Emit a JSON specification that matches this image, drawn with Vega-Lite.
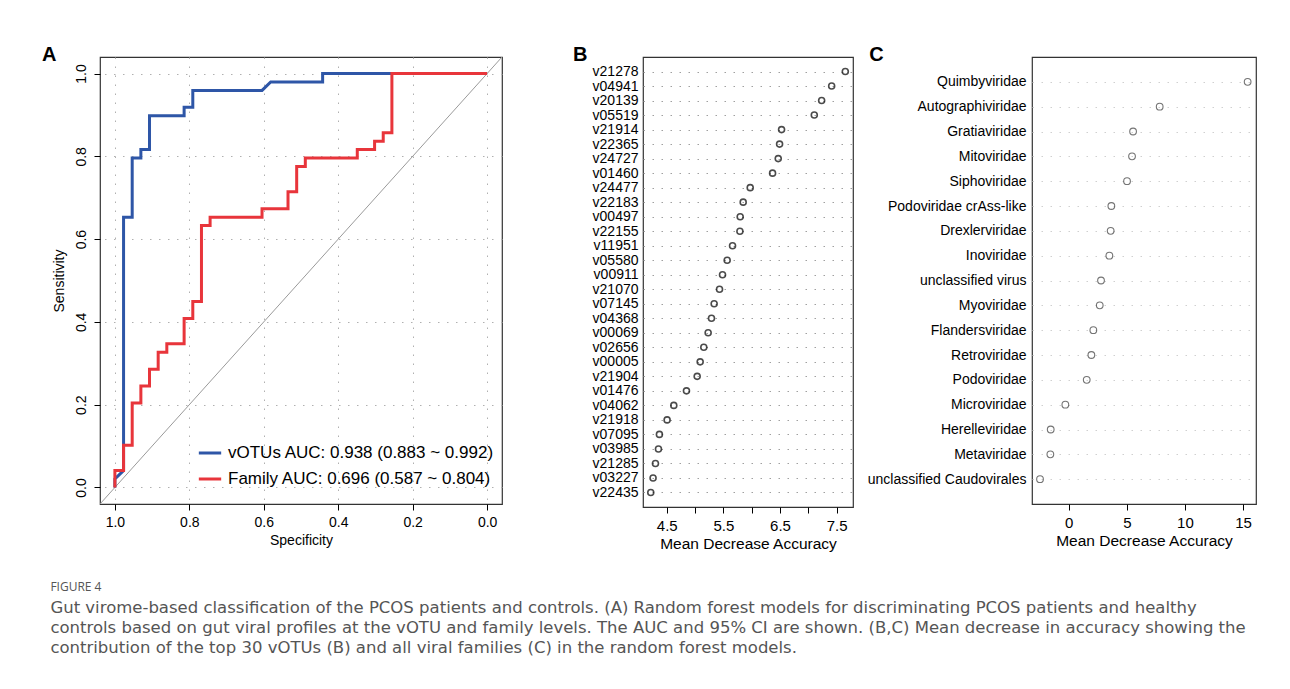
{
  "$schema": "https://vega.github.io/schema/vega-lite/v6.json",
  "padding": {"left": 41, "top": 44, "right": 10, "bottom": 10},
  "background": "white",
  "datasets": {
    "roc": [
      {"series": "vOTUs AUC: 0.938 (0.883 ~ 0.992)", "idx": 1, "spec": 1.0, "sens": 0.0},
      {"series": "vOTUs AUC: 0.938 (0.883 ~ 0.992)", "idx": 2, "spec": 1.0, "sens": 0.0204},
      {"series": "vOTUs AUC: 0.938 (0.883 ~ 0.992)", "idx": 3, "spec": 0.9767, "sens": 0.0408},
      {"series": "vOTUs AUC: 0.938 (0.883 ~ 0.992)", "idx": 4, "spec": 0.9767, "sens": 0.6531},
      {"series": "vOTUs AUC: 0.938 (0.883 ~ 0.992)", "idx": 5, "spec": 0.9535, "sens": 0.6531},
      {"series": "vOTUs AUC: 0.938 (0.883 ~ 0.992)", "idx": 6, "spec": 0.9535, "sens": 0.7959},
      {"series": "vOTUs AUC: 0.938 (0.883 ~ 0.992)", "idx": 7, "spec": 0.9302, "sens": 0.7959},
      {"series": "vOTUs AUC: 0.938 (0.883 ~ 0.992)", "idx": 8, "spec": 0.9302, "sens": 0.8163},
      {"series": "vOTUs AUC: 0.938 (0.883 ~ 0.992)", "idx": 9, "spec": 0.907, "sens": 0.8163},
      {"series": "vOTUs AUC: 0.938 (0.883 ~ 0.992)", "idx": 10, "spec": 0.907, "sens": 0.898},
      {"series": "vOTUs AUC: 0.938 (0.883 ~ 0.992)", "idx": 11, "spec": 0.814, "sens": 0.898},
      {"series": "vOTUs AUC: 0.938 (0.883 ~ 0.992)", "idx": 12, "spec": 0.814, "sens": 0.9184},
      {"series": "vOTUs AUC: 0.938 (0.883 ~ 0.992)", "idx": 13, "spec": 0.7907, "sens": 0.9184},
      {"series": "vOTUs AUC: 0.938 (0.883 ~ 0.992)", "idx": 14, "spec": 0.7907, "sens": 0.9592},
      {"series": "vOTUs AUC: 0.938 (0.883 ~ 0.992)", "idx": 15, "spec": 0.6047, "sens": 0.9592},
      {"series": "vOTUs AUC: 0.938 (0.883 ~ 0.992)", "idx": 16, "spec": 0.5814, "sens": 0.9796},
      {"series": "vOTUs AUC: 0.938 (0.883 ~ 0.992)", "idx": 17, "spec": 0.4419, "sens": 0.9796},
      {"series": "vOTUs AUC: 0.938 (0.883 ~ 0.992)", "idx": 18, "spec": 0.4419, "sens": 1.0},
      {"series": "vOTUs AUC: 0.938 (0.883 ~ 0.992)", "idx": 19, "spec": 0.0, "sens": 1.0},
      {"series": "Family AUC: 0.696 (0.587 ~ 0.804)", "idx": 1, "spec": 1.0, "sens": 0.0},
      {"series": "Family AUC: 0.696 (0.587 ~ 0.804)", "idx": 2, "spec": 1.0, "sens": 0.0408},
      {"series": "Family AUC: 0.696 (0.587 ~ 0.804)", "idx": 3, "spec": 0.9767, "sens": 0.0408},
      {"series": "Family AUC: 0.696 (0.587 ~ 0.804)", "idx": 4, "spec": 0.9767, "sens": 0.102},
      {"series": "Family AUC: 0.696 (0.587 ~ 0.804)", "idx": 5, "spec": 0.9535, "sens": 0.102},
      {"series": "Family AUC: 0.696 (0.587 ~ 0.804)", "idx": 6, "spec": 0.9535, "sens": 0.2041},
      {"series": "Family AUC: 0.696 (0.587 ~ 0.804)", "idx": 7, "spec": 0.9302, "sens": 0.2041},
      {"series": "Family AUC: 0.696 (0.587 ~ 0.804)", "idx": 8, "spec": 0.9302, "sens": 0.2449},
      {"series": "Family AUC: 0.696 (0.587 ~ 0.804)", "idx": 9, "spec": 0.907, "sens": 0.2449},
      {"series": "Family AUC: 0.696 (0.587 ~ 0.804)", "idx": 10, "spec": 0.907, "sens": 0.2857},
      {"series": "Family AUC: 0.696 (0.587 ~ 0.804)", "idx": 11, "spec": 0.8837, "sens": 0.2857},
      {"series": "Family AUC: 0.696 (0.587 ~ 0.804)", "idx": 12, "spec": 0.8837, "sens": 0.3265},
      {"series": "Family AUC: 0.696 (0.587 ~ 0.804)", "idx": 13, "spec": 0.8605, "sens": 0.3265},
      {"series": "Family AUC: 0.696 (0.587 ~ 0.804)", "idx": 14, "spec": 0.8605, "sens": 0.3469},
      {"series": "Family AUC: 0.696 (0.587 ~ 0.804)", "idx": 15, "spec": 0.814, "sens": 0.3469},
      {"series": "Family AUC: 0.696 (0.587 ~ 0.804)", "idx": 16, "spec": 0.814, "sens": 0.4082},
      {"series": "Family AUC: 0.696 (0.587 ~ 0.804)", "idx": 17, "spec": 0.7907, "sens": 0.4082},
      {"series": "Family AUC: 0.696 (0.587 ~ 0.804)", "idx": 18, "spec": 0.7907, "sens": 0.449},
      {"series": "Family AUC: 0.696 (0.587 ~ 0.804)", "idx": 19, "spec": 0.7674, "sens": 0.449},
      {"series": "Family AUC: 0.696 (0.587 ~ 0.804)", "idx": 20, "spec": 0.7674, "sens": 0.6327},
      {"series": "Family AUC: 0.696 (0.587 ~ 0.804)", "idx": 21, "spec": 0.7442, "sens": 0.6327},
      {"series": "Family AUC: 0.696 (0.587 ~ 0.804)", "idx": 22, "spec": 0.7442, "sens": 0.6531},
      {"series": "Family AUC: 0.696 (0.587 ~ 0.804)", "idx": 23, "spec": 0.6047, "sens": 0.6531},
      {"series": "Family AUC: 0.696 (0.587 ~ 0.804)", "idx": 24, "spec": 0.6047, "sens": 0.6735},
      {"series": "Family AUC: 0.696 (0.587 ~ 0.804)", "idx": 25, "spec": 0.5349, "sens": 0.6735},
      {"series": "Family AUC: 0.696 (0.587 ~ 0.804)", "idx": 26, "spec": 0.5349, "sens": 0.7143},
      {"series": "Family AUC: 0.696 (0.587 ~ 0.804)", "idx": 27, "spec": 0.5116, "sens": 0.7143},
      {"series": "Family AUC: 0.696 (0.587 ~ 0.804)", "idx": 28, "spec": 0.5116, "sens": 0.7755},
      {"series": "Family AUC: 0.696 (0.587 ~ 0.804)", "idx": 29, "spec": 0.4884, "sens": 0.7755},
      {"series": "Family AUC: 0.696 (0.587 ~ 0.804)", "idx": 30, "spec": 0.4884, "sens": 0.7959},
      {"series": "Family AUC: 0.696 (0.587 ~ 0.804)", "idx": 31, "spec": 0.3488, "sens": 0.7959},
      {"series": "Family AUC: 0.696 (0.587 ~ 0.804)", "idx": 32, "spec": 0.3488, "sens": 0.8163},
      {"series": "Family AUC: 0.696 (0.587 ~ 0.804)", "idx": 33, "spec": 0.3023, "sens": 0.8163},
      {"series": "Family AUC: 0.696 (0.587 ~ 0.804)", "idx": 34, "spec": 0.3023, "sens": 0.8367},
      {"series": "Family AUC: 0.696 (0.587 ~ 0.804)", "idx": 35, "spec": 0.2791, "sens": 0.8367},
      {"series": "Family AUC: 0.696 (0.587 ~ 0.804)", "idx": 36, "spec": 0.2791, "sens": 0.8571},
      {"series": "Family AUC: 0.696 (0.587 ~ 0.804)", "idx": 37, "spec": 0.2558, "sens": 0.8571},
      {"series": "Family AUC: 0.696 (0.587 ~ 0.804)", "idx": 38, "spec": 0.2558, "sens": 1.0},
      {"series": "Family AUC: 0.696 (0.587 ~ 0.804)", "idx": 39, "spec": 0.0, "sens": 1.0}
    ],
    "diag": [
      {"spec": 1.04, "sens": -0.04},
      {"spec": -0.04, "sens": 1.04}
    ],
    "otu": [
      {"otu": "v21278", "mda": 7.654},
      {"otu": "v04941", "mda": 7.413},
      {"otu": "v20139", "mda": 7.236},
      {"otu": "v05519", "mda": 7.106},
      {"otu": "v21914", "mda": 6.528},
      {"otu": "v22365", "mda": 6.493},
      {"otu": "v24727", "mda": 6.469},
      {"otu": "v01460", "mda": 6.369},
      {"otu": "v24477", "mda": 5.974},
      {"otu": "v22183", "mda": 5.85},
      {"otu": "v00497", "mda": 5.797},
      {"otu": "v22155", "mda": 5.792},
      {"otu": "v11951", "mda": 5.662},
      {"otu": "v05580", "mda": 5.567},
      {"otu": "v00911", "mda": 5.485},
      {"otu": "v21070", "mda": 5.432},
      {"otu": "v07145", "mda": 5.337},
      {"otu": "v04368", "mda": 5.29},
      {"otu": "v00069", "mda": 5.231},
      {"otu": "v02656", "mda": 5.154},
      {"otu": "v00005", "mda": 5.09},
      {"otu": "v21904", "mda": 5.037},
      {"otu": "v01476", "mda": 4.848},
      {"otu": "v04062", "mda": 4.624},
      {"otu": "v21918", "mda": 4.506},
      {"otu": "v07095", "mda": 4.37},
      {"otu": "v03985", "mda": 4.353},
      {"otu": "v21285", "mda": 4.3},
      {"otu": "v03227", "mda": 4.258},
      {"otu": "v22435", "mda": 4.217}
    ],
    "fam": [
      {"family": "Quimbyviridae", "mda": 15.4},
      {"family": "Autographiviridae", "mda": 7.83},
      {"family": "Gratiaviridae", "mda": 5.54},
      {"family": "Mitoviridae", "mda": 5.45},
      {"family": "Siphoviridae", "mda": 5.02},
      {"family": "Podoviridae crAss-like", "mda": 3.67},
      {"family": "Drexlerviridae", "mda": 3.61},
      {"family": "Inoviridae", "mda": 3.5},
      {"family": "unclassified virus", "mda": 2.78},
      {"family": "Myoviridae", "mda": 2.67},
      {"family": "Flandersviridae", "mda": 2.12},
      {"family": "Retroviridae", "mda": 1.95},
      {"family": "Podoviridae", "mda": 1.55},
      {"family": "Microviridae", "mda": -0.29},
      {"family": "Herelleviridae", "mda": -1.55},
      {"family": "Metaviridae", "mda": -1.58},
      {"family": "unclassified Caudovirales", "mda": -2.47}
    ]
  },
  "title": {
    "text": "FIGURE 4",
    "subtitle": [
      "Gut virome-based classification of the PCOS patients and controls. (A) Random forest models for discriminating PCOS patients and healthy",
      "controls based on gut viral profiles at the vOTU and family levels. The AUC and 95% CI are shown. (B,C) Mean decrease in accuracy showing the",
      "contribution of the top 30 vOTUs (B) and all viral families (C) in the random forest models."
    ],
    "orient": "bottom",
    "anchor": "start",
    "frame": "bounds",
    "font": "Open Sans",
    "fontSize": 12,
    "fontWeight": "normal",
    "color": "#555555",
    "subtitleFont": "DejaVu Sans",
    "subtitleFontSize": 16.5,
    "subtitleColor": "#555555",
    "subtitleLineHeight": 20,
    "subtitlePadding": 6,
    "offset": 30,
    "dx": 9
  },
  "spacing": 141,
  "bounds": "flush",
  "hconcat": [
    {
      "width": 402,
      "height": 447,
      "title": {"text": "A", "anchor": "start", "frame": "bounds", "font": "Liberation Sans", "fontSize": 20, "fontWeight": "bold", "color": "#000000", "baseline": "alphabetic", "offset": -24, "dx": -10},
      "layer": [
        {
          "data": {"name": "diag"},
          "mark": {"type": "line", "color": "#9a9a9a", "strokeWidth": 1, "clip": true},
          "encoding": {
            "x": {"field": "spec", "type": "quantitative", "scale": {"domain": [-0.04, 1.04], "reverse": true, "nice": false, "zero": false}},
            "y": {"field": "sens", "type": "quantitative", "scale": {"domain": [-0.04, 1.04], "nice": false, "zero": false}}
          }
        },
        {
          "data": {"name": "roc"},
          "transform": [{"filter": "datum.series == 'vOTUs AUC: 0.938 (0.883 ~ 0.992)'"}],
          "mark": {"type": "line", "strokeWidth": 3, "strokeJoin": "miter", "strokeCap": "butt"},
          "encoding": {
            "x": {"field": "spec", "type": "quantitative", "axis": {"title": "Specificity", "values": [0, 0.2, 0.4, 0.6, 0.8, 1.0], "format": ".1f", "grid": true, "gridDash": [1.5, 7.5], "gridColor": "#b0b0b0", "tickSize": 6, "labelPadding": 5, "titlePadding": 4, "labelFontSize": 14, "titleFontSize": 14}},
            "y": {"field": "sens", "type": "quantitative", "axis": {"title": "Sensitivity", "values": [0, 0.2, 0.4, 0.6, 0.8, 1.0], "format": ".1f", "grid": true, "gridDash": [1.5, 7.5], "gridColor": "#b0b0b0", "tickSize": 6, "labelAngle": 270, "labelAlign": "center", "labelBaseline": "bottom", "labelPadding": 6, "titlePadding": 8, "labelFontSize": 14, "titleFontSize": 14}},
            "color": {"field": "series", "type": "nominal",
              "scale": {"domain": ["vOTUs AUC: 0.938 (0.883 ~ 0.992)", "Family AUC: 0.696 (0.587 ~ 0.804)"], "range": ["#2E56A7", "#E8353B"]},
              "legend": {"title": null, "orient": "none", "legendX": 97, "legendY": 383, "padding": 0, "symbolType": "stroke", "symbolStrokeWidth": 3, "symbolSize": 500, "labelFontSize": 17, "labelFont": "Liberation Sans", "labelColor": "#000000", "labelOffset": 5, "rowPadding": 5, "labelLimit": 400}},
            "order": {"field": "idx", "type": "quantitative"}
          }
        },
        {
          "data": {"name": "roc"},
          "transform": [{"filter": "datum.series == 'Family AUC: 0.696 (0.587 ~ 0.804)'"}],
          "mark": {"type": "line", "strokeWidth": 3, "strokeJoin": "miter", "strokeCap": "butt"},
          "encoding": {
            "x": {"field": "spec", "type": "quantitative"},
            "y": {"field": "sens", "type": "quantitative"},
            "color": {"field": "series", "type": "nominal"},
            "order": {"field": "idx", "type": "quantitative"}
          }
        }
      ]
    },
    {
      "spacing": 179,
      "bounds": "flush",
      "hconcat": [
        {
          "width": 210,
          "height": 450,
          "data": {"name": "otu"},
          "title": {"text": "B", "anchor": "start", "frame": "bounds", "font": "Liberation Sans", "fontSize": 20, "fontWeight": "bold", "color": "#000000", "baseline": "alphabetic", "offset": -24, "dx": -19},
          "mark": {"type": "point", "shape": "circle", "filled": false, "color": "#000000", "strokeWidth": 1.6, "size": 36},
          "encoding": {
            "x": {"field": "mda", "type": "quantitative", "scale": {"domain": [4.08, 7.79], "nice": false, "zero": false},
              "axis": {"title": "Mean Decrease Accuracy", "values": [4.5, 5, 5.5, 6, 6.5, 7, 7.5], "labelExpr": "datum.value % 1 == 0.5 ? format(datum.value, '.1f') : ''", "tickSize": 6, "labelPadding": 5, "titlePadding": 3, "labelFontSize": 15, "titleFontSize": 15.5, "grid": false}},
            "y": {"field": "otu", "type": "nominal", "sort": null, "scale": {"type": "point", "padding": 1},
              "axis": {"title": null, "ticks": false, "labelPadding": 5, "labelFontSize": 14, "grid": true, "gridDash": [1.5, 7.5], "gridColor": "#a0a0a0"}}
          }
        },
        {
          "width": 224,
          "height": 447,
          "data": {"name": "fam"},
          "title": {"text": "C", "anchor": "start", "frame": "bounds", "font": "Liberation Sans", "fontSize": 20, "fontWeight": "bold", "color": "#000000", "baseline": "alphabetic", "offset": -24, "dx": 2},
          "mark": {"type": "point", "shape": "circle", "filled": false, "color": "#3a3a3a", "strokeWidth": 1.1, "size": 45},
          "encoding": {
            "x": {"field": "mda", "type": "quantitative", "scale": {"domain": [-3.16, 16.12], "nice": false, "zero": false},
              "axis": {"title": "Mean Decrease Accuracy", "values": [0, 5, 10, 15], "tickSize": 6, "labelPadding": 5, "titlePadding": 3, "labelFontSize": 15, "titleFontSize": 15.5, "grid": false}},
            "y": {"field": "family", "type": "nominal", "sort": null, "scale": {"type": "point", "padding": 1},
              "axis": {"title": null, "ticks": false, "labelPadding": 6, "labelFontSize": 14, "labelLimit": 300, "grid": true, "gridDash": [1.5, 7.5], "gridColor": "#d0d0d0"}}
          }
        }
      ]
    }
  ],
  "config": {
    "font": "Liberation Sans",
    "view": {"stroke": "#333333", "strokeWidth": 1.2},
    "axis": {"labelFont": "Liberation Sans", "titleFont": "Liberation Sans", "labelColor": "#000000", "titleColor": "#000000", "titleFontWeight": "normal", "tickColor": "#000000", "domain": false}
  }
}
